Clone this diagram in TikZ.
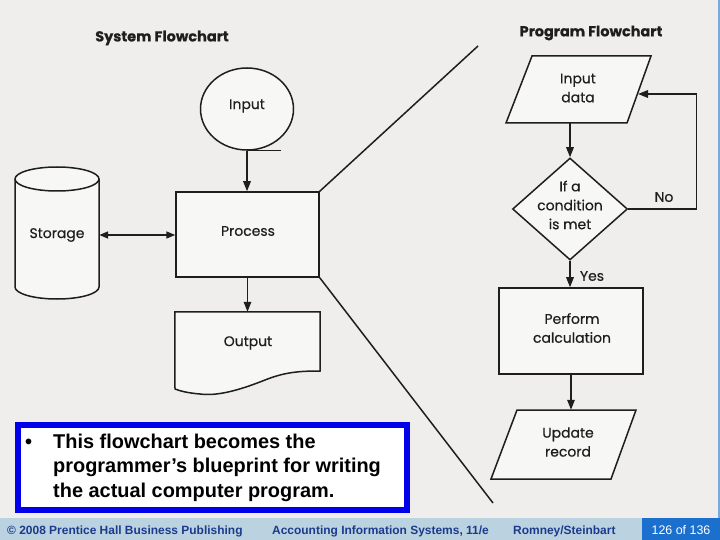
\documentclass[tikz,border=0pt]{standalone}
\usepackage{fontspec}
\setmainfont{Liberation Sans}
\newfontfamily\fut[FakeBold=0.5]{Poppins}
\usetikzlibrary{arrows.meta,shapes.geometric}
\definecolor{bgc}{RGB}{239,238,236}
\definecolor{shpfill}{RGB}{247,247,246}
\definecolor{ink}{RGB}{30,30,30}
\definecolor{footband}{RGB}{187,211,224}
\definecolor{footblue}{RGB}{27,112,205}
\definecolor{foottext}{RGB}{28,58,140}
\definecolor{notebl}{RGB}{0,0,235}
\definecolor{edgebl}{RGB}{120,170,220}
\begin{document}
\begin{tikzpicture}[x=1bp,y=-1bp,
  shp/.style={draw=ink, line width=1.5bp, fill=shpfill},
  arr/.style={draw=ink, line width=1.5bp, -{Triangle[length=10bp,width=7.5bp]}},
  dbl/.style={draw=ink, line width=1.5bp, {Triangle[length=9bp,width=7bp]}-{Triangle[length=9bp,width=7bp]}},
  plain/.style={draw=ink, line width=1.5bp},
  lbl/.style={font=\fut\fontsize{14}{19}\selectfont, align=center, text=ink, inner sep=0},
  ttl/.style={font=\fut\bfseries\fontsize{14.5}{16}\selectfont, text=ink, inner sep=0},
  foot/.style={font=\bfseries\fontsize{12}{14}\selectfont, text=foottext, inner sep=0, anchor=base west},
  notetxt/.style={font=\bfseries\fontsize{20}{24}\selectfont, text=black, inner sep=0, anchor=base west}
]
\useasboundingbox (0,0) rectangle (720,540);
\fill[bgc] (0,0) rectangle (720,540);
\fill[edgebl] (718,0) rectangle (720,518);

% ---------- System flowchart ----------
\node[ttl] (systitle) at (162,38) {System Flowchart};

\node[shp, ellipse, minimum width=93bp, minimum height=82bp, inner sep=0] (input) at (247,109) {};
\node[lbl] (inputlbl) at (247,106) {Input};
\draw[plain] (input.south) -- ++(34,0) coordinate (tailend);

\node[shp, rectangle, minimum width=143bp, minimum height=85bp, inner sep=0] (proc) at (247.5,234.5) {};
\node[lbl] (proclbl) at (248,231) {Process};
\draw[arr] (input.south) -- (input.south |- proc.north);

% storage cylinder
\draw[shp] (15,179) -- (15,287) arc[start angle=180,end angle=0,x radius=42,y radius=12]
  -- (99,179) arc[start angle=0,end angle=-180,x radius=42,y radius=12] -- cycle;
\draw[plain] (15,179) arc[start angle=180,end angle=0,x radius=42,y radius=12];
\node[lbl, minimum width=84bp] (stor) at (57,235) {Storage};
\draw[dbl] (stor.east) -- (stor.east -| proc.west);

% output document
\node[minimum width=145bp, minimum height=62bp, inner sep=0] (out) at (247.5,343) {};
\draw[shp] (out.north west) -- (out.north east) -- (320,371)
  .. controls (300,371) and (285,372) .. (265,380)
  .. controls (235,392) and (215,396) .. (200,394)
  .. controls (188,393) and (180,391) .. (175,389) -- cycle;
\node[lbl] (outlbl) at (248,343) {Output};
\draw[arr] (proc.south) -- (proc.south |- out.north);

% connecting diagonals
\coordinate (diagtop) at (478,46);
\coordinate (diagbot) at (493,503);
\draw[plain] (proc.north east) -- (diagtop);
\draw[plain] (proc.south east) -- (diagbot);

% ---------- Program flowchart ----------
\node[ttl] (progtitle) at (591,33) {Program Flowchart};

\node[minimum width=120bp, minimum height=67bp, inner sep=0] (indata) at (579,89.5) {};
\draw[shp] (532,56) -- (651,56) -- (627,123) -- (506,123) -- cycle;
\node[lbl] (indatalbl) at (578,88) {Input\\data};

\node[shp, diamond, minimum width=115bp, minimum height=102bp, inner sep=0, aspect=1.13] (dec) at (570,209) {};
\node[lbl] (declbl) at (570,205) {If a\\condition\\is met};
\draw[arr] (dec.north |- indata.south) -- (dec.north);

\node[shp, rectangle, minimum width=144bp, minimum height=86bp, inner sep=0] (calc) at (571,331) {};
\node[lbl] (calclbl) at (572,328) {Perform\\calculation};
\draw[arr] (dec.south) -- (dec.south |- calc.north);
\node[lbl] (yes) at (592,276) {Yes};

\node[minimum width=120bp, minimum height=69bp, inner sep=0] (upd) at (572,444.5) {};
\draw[shp] (517,410) -- (636,410) -- (611,479) -- (491,479) -- cycle;
\node[lbl] (updlbl) at (568,442) {Update\\record};
\draw[arr] (calc.south) -- (calc.south |- upd.north);

\coordinate (noin) at (638,94);
\draw[arr] (dec.east) -- ++(68,0) |- (noin);
\node[lbl] (no) at (664,197) {No};

% ---------- note box ----------
\node[draw=notebl, line width=6bp, fill=white, minimum width=389bp, minimum height=85bp, inner sep=0] (note) at (212.5,467.5) {};
\node[notetxt] (bullet) at (25,448) {\textbullet};
\node[notetxt] (l1) at (53,448) {This flowchart becomes the};
\node[notetxt] (l2) at (53,472.5) {programmer’s blueprint for writing};
\node[notetxt] (l3) at (53,497) {the actual computer program.};

% ---------- footer ----------
\fill[footband] (0,518) rectangle (720,540);
\node[fill=footblue, minimum width=78bp, minimum height=22bp, inner sep=0] (pagebox) at (681,529) {};
\node[foot] (f1) at (7,534) {© 2008 Prentice Hall Business Publishing};
\node[foot] (f2) at (272,534) {Accounting Information Systems, 11/e};
\node[foot] (f3) at (513,534) {Romney/Steinbart};
\node[font=\fontsize{12.5}{14}\selectfont, text=white, inner sep=0, anchor=base] (pg) at (681,534) {126 of 136};
\end{tikzpicture}
\end{document}
